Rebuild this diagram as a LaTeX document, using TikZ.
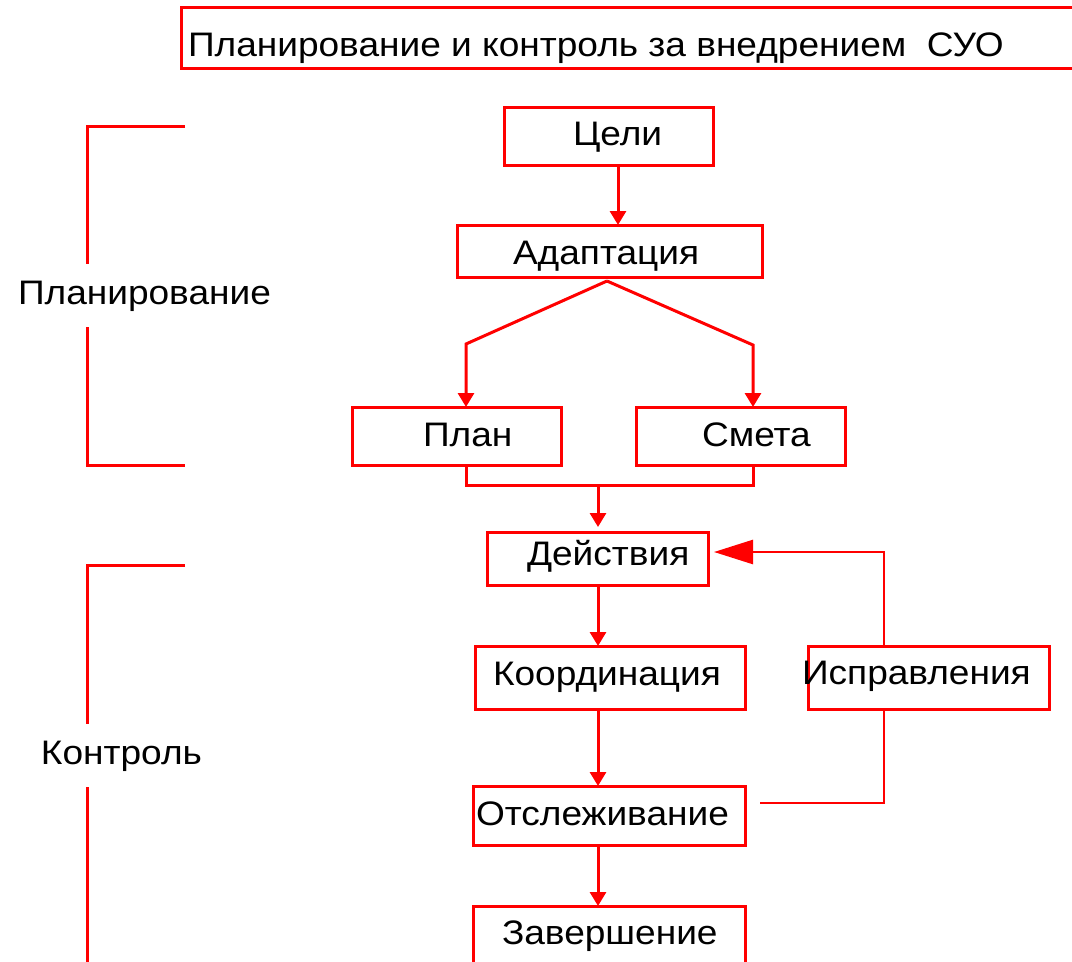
\documentclass[tikz,border=0pt]{standalone}
\usepackage{fontspec}
\setmainfont[FakeStretch=1.09]{Liberation Sans}
\usetikzlibrary{arrows.meta}
\begin{document}
\begin{tikzpicture}[x=1pt,y=-1pt,
  every node/.style={inner sep=0pt,outer sep=0pt},
  box/.style={draw=red,line width=3pt,rectangle},
  lbl/.style={anchor=base west,font=\fontsize{34}{40}\selectfont},
  conn/.style={draw=red,line width=3pt},
  fbline/.style={draw=red,line width=2.6pt},
  arr/.style={conn,-{Triangle[length=14pt,width=16pt]}},
  bigarr/.style={fbline,-{Triangle[length=39pt,width=24pt]}}]
\useasboundingbox (0,0) rectangle (1072,962);
% boxes
\node[box,minimum width=899,minimum height=61] (title) at (630.5,37.5) {};
\node[box,minimum width=209,minimum height=58] (celi) at (608.5,136) {};
\node[box,minimum width=305,minimum height=52] (adapt) at (609.5,251) {};
\node[box,minimum width=209,minimum height=58] (plan) at (456.5,436) {};
\node[box,minimum width=209,minimum height=58] (smeta) at (740.5,436) {};
\node[box,minimum width=221,minimum height=53] (deyst) at (597.5,558.5) {};
\node[box,minimum width=270,minimum height=63] (koord) at (610,677.5) {};
\node[box,minimum width=241,minimum height=63] (ispr) at (928.5,677.5) {};
\node[box,minimum width=272,minimum height=59] (otsl) at (609,815.5) {};
\node[box,minimum width=272,minimum height=74] (zav) at (609,943) {};
% texts
\node[lbl] (ttitle) at (188,56) {Планирование и контроль за внедрением\ \ СУО};
\node[lbl] (tceli) at (573,145) {Цели};
\node[lbl] (tadapt) at (513,264) {Адаптация};
\node[lbl] (tplan) at (423,446) {План};
\node[lbl] (tsmeta) at (702,446) {Смета};
\node[lbl] (tdeyst) at (527,565) {Действия};
\node[lbl] (tkoord) at (493,685) {Координация};
\node[lbl] (tispr) at (802,684) {Исправления};
\node[lbl] (totsl) at (476,825) {Отслеживание};
\node[lbl] (tzav) at (502,944) {Завершение};
\node[lbl] (tplanir) at (18,304) {Планирование};
\node[lbl] (tkontr) at (41,764) {Контроль};
% coordinates
\coordinate (x1) at (618,0);
\coordinate (apex) at (607,281);
\coordinate (bl) at (466,344);
\coordinate (br) at (753,345);
\coordinate (jl) at (466,485);
\coordinate (jr) at (753,485);
\coordinate (jm) at (598,485);
\coordinate (fs) at (760,803);
\coordinate (fb) at (884,803);
\coordinate (ft) at (884,552);
% connectors
\draw[arr] (x1 |- celi.south) -- (x1 |- adapt.north);
\draw[arr] (apex) -- (bl) -- (bl |- plan.north);
\draw[arr] (apex) -- (br) -- (br |- smeta.north);
\draw[conn] (jl |- plan.south) -- (jl) -- (jr) -- (jr |- smeta.south);
\draw[arr,shorten >=5pt] (jm) -- (jm |- deyst.north);
\draw[arr] (jm |- deyst.south) -- (jm |- koord.north);
\draw[arr] (jm |- koord.south) -- (jm |- otsl.north);
\draw[arr] (jm |- otsl.south) -- (jm |- zav.north);
\draw[fbline] (fs) -- (fb) -- (fb |- ispr.south);
\draw[bigarr] (fb |- ispr.north) -- (ft) -- ([xshift=6pt]deyst.east |- ft);
% brackets
\draw[conn] (185,126) -- (87,126) -- (87,264);
\draw[conn] (87,327) -- (87,465) -- (185,465);
\draw[conn] (185,565) -- (87,565) -- (87,724);
\draw[conn] (87,787) -- (87,962);
\end{tikzpicture}
\end{document}
